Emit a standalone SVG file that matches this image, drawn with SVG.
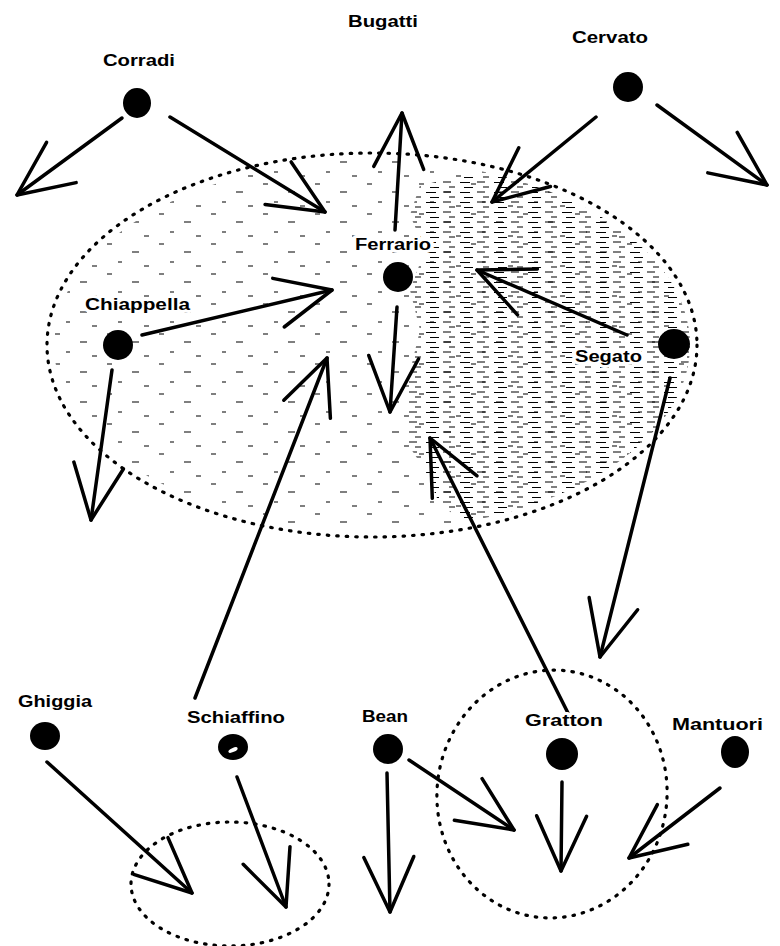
<svg xmlns="http://www.w3.org/2000/svg" width="780" height="946" viewBox="0 0 780 946">
  <style>
    .lbl { font-family: "Liberation Sans", "DejaVu Sans", sans-serif; font-weight: bold; font-size: 16px; fill: #000; paint-order: stroke; stroke: #fff; stroke-width: 6px; stroke-linejoin: round; }
    .dot { fill: #000; }
    .arr { fill: none; stroke: #000; stroke-width: 3.5; stroke-linecap: round; stroke-linejoin: round; marker-end: url(#v); }
    .ring { fill: none; stroke: #000; stroke-width: 3.2; stroke-linecap: round; stroke-dasharray: 1.5 8; }
  </style>
  <defs>
    <marker id="v" markerUnits="userSpaceOnUse" markerWidth="70" markerHeight="70" viewBox="-60 -35 70 70" refX="0" refY="0" orient="auto">
      <path d="M-55,-25 L0,0 L-55,25" fill="none" stroke="#000" stroke-width="3.5" stroke-linecap="round" stroke-linejoin="round"/>
    </marker>
    <pattern id="dense" patternUnits="userSpaceOnUse" width="34" height="10">
      <path d="M1,2h8 M18,2.5h10 M7,7h6 M22,7.5h9" stroke="#000" stroke-width="1.2"/>
    </pattern>
    <pattern id="sparse" patternUnits="userSpaceOnUse" width="52" height="30">
      <path d="M3,4h5 M28,12h7 M14,22h4 M40,26h5" stroke="#000" stroke-width="1.1"/>
    </pattern>
    <clipPath id="bigclip">
      <ellipse cx="372" cy="345" rx="318" ry="185"/>
    </clipPath>
  </defs>
  <rect width="780" height="946" fill="#fff"/>

  <g id="areas">
    <g clip-path="url(#bigclip)">
      <rect x="40" y="150" width="670" height="400" fill="url(#sparse)"/>
      <path d="M420,185 L470,176 L530,170 L600,195 L650,215 L705,300 L705,420 L650,480 L560,515 L470,525 L440,505 L425,470 L405,440 L408,380 L420,330 L410,290 L425,250 L410,215 Z" fill="url(#dense)"/>
    </g>
    <ellipse class="ring" cx="372" cy="345" rx="325" ry="192"/>
    <ellipse class="ring" cx="230" cy="884" rx="99" ry="62"/>
    <ellipse class="ring" cx="552" cy="794" rx="115" ry="124" transform="rotate(6 552 794)"/>
  </g>

  <g id="connectors">
    <path class="arr" d="M122,118 L17,195"/>
    <path class="arr" d="M170,117 L325,212"/>
    <path class="arr" d="M395,230 L402,113"/>
    <path class="arr" d="M596,117 L492,202"/>
    <path class="arr" d="M657,105 L767,185"/>
    <path class="arr" d="M142,335 L332,290"/>
    <path class="arr" d="M627,335 L477,270"/>
    <path class="arr" d="M397,307 L390,412"/>
    <path class="arr" d="M112,370 L91,520"/>
    <path class="arr" d="M195,698 L327,358"/>
    <path class="arr" d="M570,717 L430,438"/>
    <path class="arr" d="M670,378 L600,657"/>
    <path class="arr" d="M47,762 L192,893"/>
    <path class="arr" d="M237,777 L286,907"/>
    <path class="arr" d="M387,773 L390,912"/>
    <path class="arr" d="M409,760 L514,830"/>
    <path class="arr" d="M562,782 L561,871"/>
    <path class="arr" d="M720,788 L629,858"/>
  </g>

  <g id="bugatti">
    <text class="lbl" x="348" y="27" textLength="70" lengthAdjust="spacingAndGlyphs">Bugatti</text>
  </g>
  <g id="cervato">
    <text class="lbl" x="572" y="43" textLength="76" lengthAdjust="spacingAndGlyphs">Cervato</text>
    <ellipse class="dot" cx="628" cy="87" rx="15" ry="15"/>
  </g>
  <g id="corradi">
    <text class="lbl" x="103" y="66" textLength="72" lengthAdjust="spacingAndGlyphs">Corradi</text>
    <ellipse class="dot" cx="137" cy="103" rx="14" ry="15"/>
  </g>
  <g id="ferrario">
    <text class="lbl" x="355" y="250" textLength="76" lengthAdjust="spacingAndGlyphs">Ferrario</text>
    <ellipse class="dot" cx="398" cy="277" rx="15" ry="15"/>
  </g>
  <g id="chiappella">
    <text class="lbl" x="85" y="310" textLength="105" lengthAdjust="spacingAndGlyphs">Chiappella</text>
    <ellipse class="dot" cx="118" cy="345" rx="15" ry="15"/>
  </g>
  <g id="segato">
    <text class="lbl" x="575" y="362" textLength="67" lengthAdjust="spacingAndGlyphs">Segato</text>
    <ellipse class="dot" cx="674" cy="344" rx="16" ry="15"/>
  </g>
  <g id="ghiggia">
    <text class="lbl" x="18" y="707" textLength="74" lengthAdjust="spacingAndGlyphs">Ghiggia</text>
    <ellipse class="dot" cx="45" cy="736" rx="15" ry="14"/>
  </g>
  <g id="schiaffino">
    <text class="lbl" x="187" y="723" textLength="98" lengthAdjust="spacingAndGlyphs">Schiaffino</text>
    <ellipse class="dot" cx="233" cy="747" rx="15" ry="13"/>
    <ellipse cx="233" cy="750" rx="5" ry="2" fill="#fff" transform="rotate(-25 233 750)"/>
  </g>
  <g id="bean">
    <text class="lbl" x="362" y="722" textLength="46" lengthAdjust="spacingAndGlyphs">Bean</text>
    <ellipse class="dot" cx="388" cy="749" rx="15" ry="15"/>
  </g>
  <g id="gratton">
    <text class="lbl" x="525" y="726" textLength="78" lengthAdjust="spacingAndGlyphs">Gratton</text>
    <ellipse class="dot" cx="562" cy="754" rx="16" ry="16"/>
  </g>
  <g id="mantuori">
    <text class="lbl" x="672" y="730" textLength="91" lengthAdjust="spacingAndGlyphs">Mantuori</text>
    <ellipse class="dot" cx="735" cy="752" rx="14" ry="16"/>
  </g>
</svg>
